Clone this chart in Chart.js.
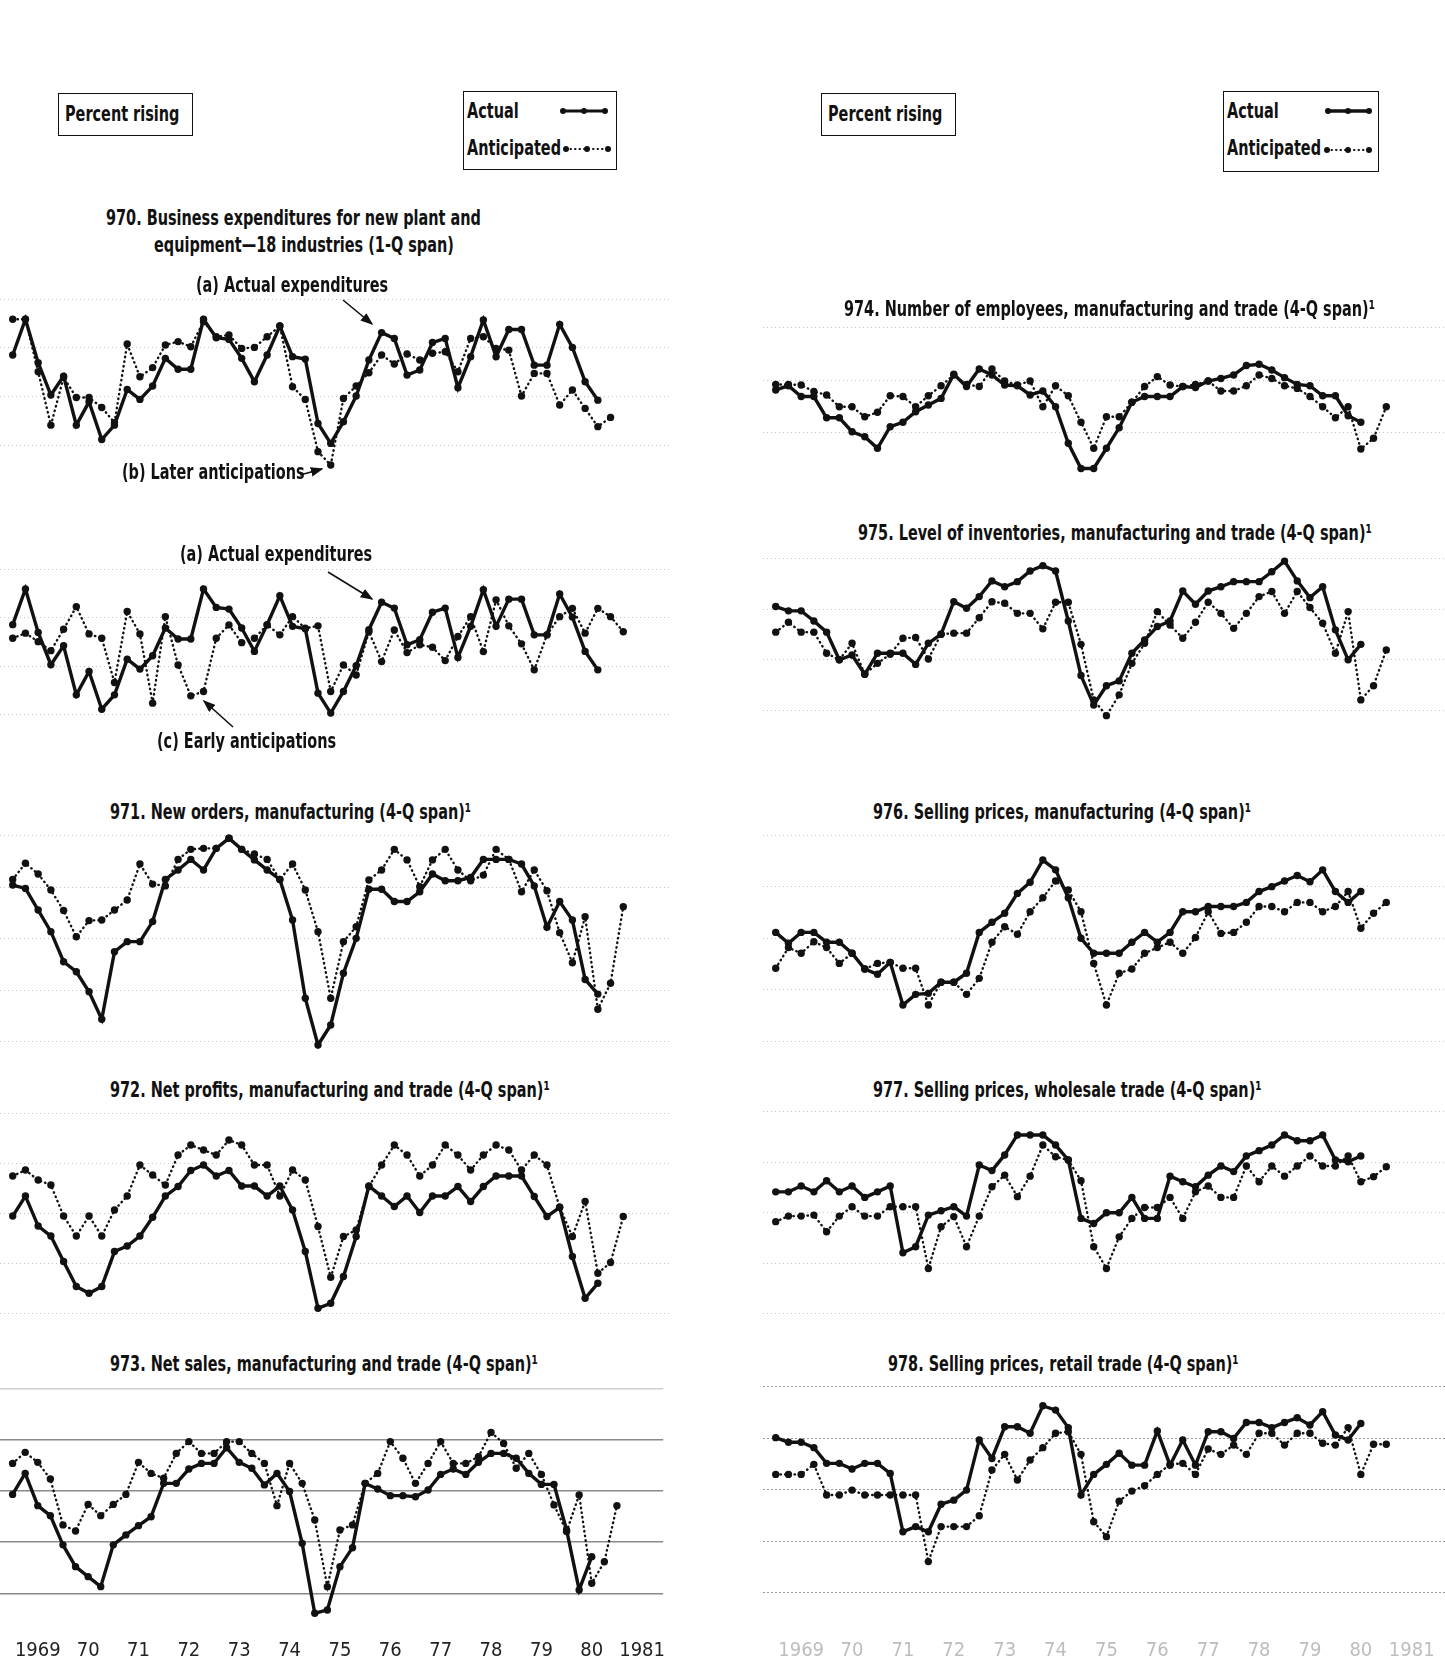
<!DOCTYPE html>
<html>
<head>
<meta charset="utf-8">
<script src="https://cdn.jsdelivr.net/npm/chart.js@4.4.0/dist/chart.umd.min.js"></script>
<style>
  html, body { margin: 0; padding: 0; background: #fff; }
  #page { position: relative; width: 1445px; height: 1665px; overflow: hidden; font-family: "DejaVu Sans Condensed", "DejaVu Sans", sans-serif; color: #111; }
  canvas { position: absolute; }
  .t, .box span { position: absolute; white-space: nowrap; font-size: 22px; font-weight: bold; line-height: 24px; transform: scaleX(0.73); transform-origin: 0 50%; }
  .box { position: absolute; border: 1.5px solid #111; box-sizing: border-box; }
  svg { position: absolute; }
</style>
</head>
<body>
<div id="page">
  <div class="box" style="left:58px;top:93px;width:135px;height:43px;"><span style="left:6px;top:8px;">Percent rising</span></div>
  <div class="box" style="left:463px;top:91px;width:154px;height:79px;">
    <span style="left:3px;top:7px;">Actual</span>
    <span style="left:3px;top:44px;">Anticipated</span>
    <svg width="154" height="79" style="left:-1.5px;top:-1.5px;">
      <line x1="100" y1="20" x2="142" y2="20" stroke="#111" stroke-width="3"/>
      <circle cx="100" cy="20" r="3" fill="#111"/><circle cx="121" cy="20" r="3" fill="#111"/><circle cx="142" cy="20" r="3" fill="#111"/>
      <line x1="103" y1="58" x2="145" y2="58" stroke="#111" stroke-width="2" stroke-dasharray="0.5 4" stroke-linecap="round"/>
      <circle cx="103" cy="58" r="3" fill="#111"/><circle cx="124" cy="58" r="3" fill="#111"/><circle cx="145" cy="58" r="3" fill="#111"/>
    </svg>
  </div>
  <div class="box" style="left:821px;top:93px;width:135px;height:43px;"><span style="left:6px;top:8px;">Percent rising</span></div>
  <div class="box" style="left:1223px;top:91px;width:156px;height:81px;">
    <span style="left:3px;top:7px;">Actual</span>
    <span style="left:3px;top:44px;">Anticipated</span>
    <svg width="156" height="81" style="left:-1.5px;top:-1.5px;">
      <line x1="105" y1="20" x2="146" y2="20" stroke="#111" stroke-width="3.5"/>
      <circle cx="105" cy="20" r="3" fill="#111"/><circle cx="125" cy="20" r="3" fill="#111"/><circle cx="146" cy="20" r="3" fill="#111"/>
      <line x1="104" y1="59" x2="146" y2="59" stroke="#111" stroke-width="2" stroke-dasharray="0.5 4" stroke-linecap="round"/>
      <circle cx="104" cy="59" r="3" fill="#111"/><circle cx="125" cy="59" r="3" fill="#111"/><circle cx="146" cy="59" r="3" fill="#111"/>
    </svg>
  </div>

  <div class="t" style="left:106px;top:206px;">970. Business expenditures for new plant and</div>
  <div class="t" style="left:154px;top:233px;">equipment—18 industries (1-Q span)</div>
  <div class="t" style="left:196px;top:273px;">(a) Actual expenditures</div>
  <div class="t" style="left:122px;top:460px;">(b) Later anticipations</div>
  <div class="t" style="left:180px;top:542px;">(a) Actual expenditures</div>
  <div class="t" style="left:157px;top:729px;">(c) Early anticipations</div>
  <div class="t" style="left:110px;top:800px;">971. New orders, manufacturing (4-Q span)¹</div>
  <div class="t" style="left:110px;top:1078px;">972. Net profits, manufacturing and trade (4-Q span)¹</div>
  <div class="t" style="left:110px;top:1352px;">973. Net sales, manufacturing and trade (4-Q span)¹</div>
  <div class="t" style="left:844px;top:297px;">974. Number of employees, manufacturing and trade (4-Q span)¹</div>
  <div class="t" style="left:858px;top:521px;">975. Level of inventories, manufacturing and trade (4-Q span)¹</div>
  <div class="t" style="left:873px;top:800px;">976. Selling prices, manufacturing (4-Q span)¹</div>
  <div class="t" style="left:873px;top:1078px;">977. Selling prices, wholesale trade (4-Q span)¹</div>
  <div class="t" style="left:888px;top:1352px;">978. Selling prices, retail trade (4-Q span)¹</div>

  <svg width="1445" height="1665" style="left:0;top:0;pointer-events:none;z-index:5;">
    <defs>
      <marker id="ah" markerWidth="8" markerHeight="6" refX="7" refY="3" orient="auto">
        <path d="M0,0 L8,3 L0,6 z" fill="#111"/>
      </marker>
    </defs>
    <line x1="343" y1="300" x2="372" y2="324" stroke="#111" stroke-width="1.6" marker-end="url(#ah)"/>
    <line x1="300" y1="475" x2="322" y2="469" stroke="#111" stroke-width="1.6" marker-end="url(#ah)"/>
    <line x1="328" y1="572" x2="372" y2="599" stroke="#111" stroke-width="1.6" marker-end="url(#ah)"/>
    <line x1="233" y1="727" x2="204" y2="701" stroke="#111" stroke-width="1.6" marker-end="url(#ah)"/>
  </svg>
</div>

<script>
// quarterly periods, 1969 Q1 onward
const years = [1969, 1970, 1971, 1972, 1973, 1974, 1975, 1976, 1977, 1978, 1979, 1980, 1981]
const quarterOffsets = [0, 0.25, 0.5, 0.75]
const yearTickLabels = ['1969', '70', '71', '72', '73', '74', '75', '76', '77', '78', '79', '80', '1981']

// 970 - plant and equipment (1-Q span)
const actual970 = [77.1, 91.8, 73.9, 60.6, 68.4, 48.2, 57.8, 42.3, 48.2, 62.9, 58.8, 64.3, 75.7, 71.2, 71.2, 91.8, 84.2, 83.5, 75.7, 66.1, 77.1, 89.0, 76.4, 75.4, 48.9, 40.7, 49.6, 60.2, 75.0, 86.3, 83.9, 68.8, 70.9, 82.2, 83.9, 63.6, 76.4, 91.5, 76.4, 87.6, 87.6, 72.9, 72.9, 89.7, 80.2, 66.1, 58.5]
const laterAnt970 = [91.8, 91.8, 70.2, 48.2, 67.9, 59.6, 59.6, 55.5, 49.2, 81.6, 68.1, 71.9, 81.2, 82.6, 80.5, 90.8, 84.6, 85.3, 79.8, 80.2, 84.6, 89.0, 64.0, 58.8, 37.3, 31.8, 59.2, 64.3, 69.8, 77.1, 73.4, 77.5, 75.0, 77.8, 78.4, 70.2, 83.9, 84.6, 79.8, 79.1, 60.2, 69.5, 69.5, 56.5, 62.7, 55.1, 47.6, 51.4]
const earlyAnt970 = [71.5, 73.6, 70.1, 66.4, 75.2, 84.5, 73.3, 71.5, 53.3, 82.5, 73.3, 44.8, 80.4, 60.5, 47.8, 49.6, 71.5, 77.0, 69.7, 71.5, 77.0, 72.9, 80.4, 75.6, 76.6, 49.6, 60.5, 56.4, 74.2, 61.9, 74.9, 65.6, 68.8, 67.8, 62.3, 72.2, 80.4, 66.0, 87.3, 76.6, 69.2, 58.5, 72.9, 80.4, 83.8, 73.6, 83.8, 80.4, 74.2]

// 971 - new orders
const actual971 = [80.9, 79.6, 71.2, 62.8, 51.1, 47.2, 39.4, 28.7, 55.0, 58.9, 58.9, 66.7, 83.1, 86.8, 90.9, 86.8, 95.2, 99.1, 94.8, 90.7, 86.8, 83.1, 67.3, 36.9, 18.7, 26.5, 46.6, 60.2, 79.3, 79.3, 74.5, 74.5, 78.3, 85.2, 82.6, 82.6, 83.9, 90.9, 90.9, 90.9, 89.1, 80.6, 64.5, 74.5, 67.3, 44.2, 38.5]
const ant971 = [83.1, 89.4, 85.2, 79.0, 71.0, 60.8, 67.1, 67.3, 71.2, 75.1, 89.1, 81.3, 80.6, 90.9, 94.8, 95.2, 95.2, 99.1, 94.8, 93.0, 90.9, 83.1, 89.1, 79.0, 62.8, 36.9, 58.9, 64.7, 82.9, 86.8, 94.8, 90.7, 80.3, 90.7, 94.8, 86.8, 82.6, 84.8, 94.8, 90.9, 78.3, 86.8, 78.7, 62.4, 50.7, 68.6, 32.6, 42.7, 72.5]

// 972 - net profits
const actual972 = [58.9, 66.9, 54.9, 50.9, 40.7, 30.7, 28.0, 30.7, 44.7, 46.9, 50.9, 58.4, 66.9, 70.7, 77.1, 79.3, 74.9, 77.1, 70.9, 70.9, 66.9, 70.9, 61.3, 44.7, 22.0, 24.0, 34.7, 50.7, 70.9, 66.9, 62.7, 66.9, 60.3, 66.9, 66.9, 70.7, 64.7, 70.7, 74.9, 74.9, 74.9, 66.7, 58.7, 62.4, 42.7, 26.0, 32.0]
const ant972 = [74.9, 77.3, 73.3, 71.3, 58.9, 50.9, 58.9, 50.9, 61.3, 66.9, 79.3, 75.3, 71.3, 83.3, 87.3, 85.3, 83.3, 89.3, 87.3, 79.3, 79.3, 66.9, 77.3, 73.3, 54.7, 34.4, 50.7, 53.3, 70.7, 79.3, 87.3, 83.3, 74.9, 79.3, 87.3, 83.3, 77.3, 83.3, 87.3, 85.3, 77.3, 83.3, 79.3, 62.4, 50.7, 64.7, 36.0, 40.3, 58.7]

// 973 - net sales
const actual973 = [58.6, 66.8, 54.2, 50.3, 38.9, 30.4, 26.5, 22.6, 38.9, 42.8, 46.4, 49.9, 62.9, 62.9, 68.5, 70.7, 70.7, 76.8, 71.1, 68.8, 62.3, 66.8, 59.7, 39.5, 12.2, 13.5, 30.4, 37.8, 62.9, 60.7, 58.1, 58.1, 57.7, 60.3, 66.4, 68.5, 66.4, 71.1, 74.6, 74.6, 72.7, 66.8, 62.5, 62.5, 44.7, 21.3, 34.3]
const ant973 = [70.7, 75.0, 71.1, 64.6, 46.7, 44.3, 54.7, 50.3, 54.7, 58.6, 71.1, 66.8, 64.9, 74.6, 79.2, 74.6, 74.6, 79.2, 79.2, 74.6, 70.7, 54.2, 70.7, 62.9, 48.6, 22.6, 44.7, 46.7, 62.9, 66.8, 79.2, 72.7, 62.9, 70.7, 79.2, 70.7, 70.7, 73.3, 82.8, 78.5, 68.8, 74.6, 66.4, 54.5, 44.1, 58.4, 23.9, 32.3, 54.2]

// 974 - employees
const actual974 = [76.2, 77.8, 73.7, 73.7, 65.6, 65.6, 60.3, 58.4, 54.0, 62.2, 63.9, 67.9, 70.5, 73.0, 82.2, 77.5, 84.2, 81.9, 78.1, 77.8, 74.3, 75.8, 69.8, 55.9, 46.3, 46.3, 54.0, 61.8, 71.5, 73.7, 73.7, 73.7, 77.5, 77.1, 79.6, 80.6, 81.9, 85.5, 86.0, 83.8, 80.9, 78.3, 77.8, 74.0, 74.0, 66.4, 63.9]
const ant974 = [78.3, 78.3, 78.1, 75.6, 74.3, 69.8, 69.8, 66.0, 67.7, 74.0, 73.7, 69.8, 74.0, 77.8, 81.9, 78.3, 77.5, 84.2, 79.6, 78.1, 79.6, 69.8, 77.8, 74.0, 63.9, 54.0, 66.0, 66.0, 71.5, 77.5, 81.3, 78.1, 77.5, 78.3, 79.6, 75.8, 75.8, 77.8, 81.9, 80.6, 77.8, 76.8, 73.7, 69.8, 65.6, 69.8, 53.7, 57.8, 69.8]

// 975 - inventories
const actual975 = [81.0, 79.3, 79.3, 75.3, 70.9, 60.0, 61.9, 54.3, 62.6, 62.6, 62.6, 58.2, 66.5, 70.1, 82.9, 80.3, 84.9, 91.1, 88.8, 90.8, 95.0, 97.1, 95.0, 75.3, 53.8, 42.2, 49.8, 51.7, 62.6, 67.8, 73.1, 75.3, 87.1, 81.9, 87.1, 88.8, 90.8, 90.8, 90.8, 94.7, 98.9, 91.1, 84.5, 88.8, 71.8, 60.0, 66.1]
const ant975 = [70.9, 74.8, 70.9, 70.9, 62.6, 60.0, 66.5, 54.3, 58.6, 62.2, 68.5, 68.8, 60.3, 70.1, 70.5, 70.5, 76.6, 82.9, 82.3, 78.3, 78.3, 72.2, 82.7, 82.7, 66.1, 44.2, 38.0, 46.2, 58.6, 66.5, 79.0, 73.7, 68.5, 74.8, 82.7, 78.3, 72.4, 78.3, 84.9, 86.9, 78.3, 86.9, 80.6, 74.4, 62.6, 79.0, 44.2, 49.8, 63.9]

// 976 - selling prices, manufacturing
const actual976 = [62.3, 58.1, 62.3, 62.3, 58.5, 58.5, 54.2, 48.1, 46.1, 50.7, 34.2, 38.3, 38.7, 43.0, 43.0, 46.5, 62.3, 66.2, 69.7, 77.4, 81.7, 90.3, 86.5, 75.7, 60.0, 54.2, 54.2, 54.2, 58.5, 62.3, 58.5, 62.3, 70.3, 70.3, 72.3, 72.3, 72.3, 73.9, 78.1, 80.0, 82.2, 84.3, 81.9, 86.5, 78.1, 73.9, 78.1]
const ant976 = [48.4, 56.4, 54.2, 58.7, 56.4, 50.3, 54.2, 48.1, 50.3, 50.7, 48.4, 48.4, 34.2, 43.0, 43.0, 38.3, 44.5, 58.5, 64.5, 61.6, 70.3, 75.7, 82.2, 78.7, 70.3, 50.3, 34.2, 46.5, 48.1, 54.2, 56.4, 58.5, 54.2, 60.3, 70.3, 61.9, 62.3, 66.2, 72.3, 72.3, 70.3, 73.9, 73.9, 70.3, 72.3, 78.1, 63.9, 69.7, 73.9]

// 977 - selling prices, wholesale
const actual977 = [68.3, 68.3, 70.6, 68.3, 72.7, 68.3, 70.6, 66.1, 68.3, 70.6, 44.2, 46.6, 59.1, 60.8, 62.4, 58.7, 78.9, 76.7, 82.9, 90.8, 90.8, 90.8, 86.8, 80.9, 57.8, 55.8, 60.0, 60.0, 66.1, 57.8, 57.8, 74.5, 72.3, 70.3, 74.9, 78.5, 76.3, 82.5, 84.6, 86.8, 90.8, 88.5, 88.5, 90.8, 80.9, 80.2, 82.5]
const ant977 = [56.5, 58.7, 58.7, 59.1, 52.5, 58.7, 62.4, 58.7, 58.7, 62.4, 62.4, 62.4, 38.0, 54.5, 58.5, 46.6, 58.7, 70.3, 74.9, 66.4, 74.5, 86.8, 82.2, 80.9, 72.7, 46.6, 38.0, 50.5, 57.8, 62.1, 62.1, 66.1, 57.8, 68.3, 70.6, 66.1, 66.1, 78.5, 72.3, 78.5, 74.5, 78.5, 82.5, 78.5, 78.5, 82.5, 72.3, 74.3, 78.2]

// 978 - selling prices, retail
const actual978 = [80.2, 78.4, 78.4, 76.3, 70.2, 70.2, 68.0, 70.2, 70.2, 66.3, 43.6, 45.6, 43.6, 54.3, 55.9, 59.8, 79.3, 72.1, 84.4, 84.4, 81.9, 92.6, 90.9, 84.1, 57.9, 65.9, 69.8, 74.1, 69.5, 69.5, 82.8, 69.5, 79.3, 69.5, 82.5, 82.5, 79.9, 86.1, 86.1, 84.1, 86.1, 87.9, 85.1, 90.3, 81.2, 79.3, 85.7]
const ant978 = [65.9, 65.9, 65.9, 69.8, 57.9, 57.9, 59.8, 57.9, 57.9, 57.9, 57.9, 57.9, 32.0, 45.6, 45.6, 45.6, 49.8, 67.6, 73.7, 63.7, 71.5, 76.3, 81.9, 82.5, 73.7, 47.5, 41.7, 55.5, 59.4, 61.5, 65.9, 69.8, 70.2, 65.9, 75.8, 73.7, 77.3, 73.7, 81.9, 81.9, 77.3, 81.9, 81.9, 78.0, 77.3, 84.1, 65.9, 77.6, 77.6]

const periods = years.flatMap((y) => quarterOffsets.map((q) => y + q))
const toPoints = (vals) => vals.map((v, i) => ({ x: periods[i], y: v }))

// page layout (pixels)
const X_START = 1968.75
const PX_PER_YEAR = 50.88
const columns = {
  L: { left: 0, width: 670, labelColor: '#222' },
  R: { left: 763, width: 682, labelColor: '#bdbdbd' },
}
const AXIS_H = 30
const YMAX = 104

const panels = [
  { col: 'L', y100: 299.3, ppu: 2.43, ymin: 28, grid: [100, 80, 60, 40], actual: actual970, ant: laterAnt970 },
  { col: 'L', y100: 569, ppu: 2.43, ymin: 34, grid: [100, 80, 60, 40], actual: actual970, ant: earlyAnt970 },
  { col: 'L', y100: 836, ppu: 2.571, ymin: 16, grid: [100, 80, 60, 40, 20], actual: actual971, ant: ant971 },
  { col: 'L', y100: 1113.3, ppu: 2.5, ymin: 18, grid: [100, 80, 60, 40, 20], actual: actual972, ant: ant972 },
  { col: 'L', y100: 1388.3, ppu: 2.5625, ymin: 4, grid: [100, 80, 60, 40, 20], actual: actual973, ant: ant973, solidGrid: true, xAxis: true },
  { col: 'R', y100: 327.5, ppu: 2.625, ymin: 40, grid: [100, 80, 60, 40], actual: actual974, ant: ant974 },
  { col: 'R', y100: 558.3, ppu: 2.538, ymin: 34, grid: [100, 80, 60, 40], actual: actual975, ant: ant975 },
  { col: 'R', y100: 835, ppu: 2.583, ymin: 16, grid: [100, 80, 60, 40, 20], actual: actual976, ant: ant976 },
  { col: 'R', y100: 1111.7, ppu: 2.528, ymin: 16, grid: [100, 80, 60, 40, 20], actual: actual977, ant: ant977 },
  { col: 'R', y100: 1386.7, ppu: 2.572, ymin: 3.73, grid: [100, 80, 60, 40, 20], actual: actual978, ant: ant978, darkGrid: true, xAxis: true },
]

const page = document.getElementById('page')

panels.forEach((p) => {
  const col = columns[p.col]
  const top = Math.round(p.y100 - (YMAX - 100) * p.ppu)
  const areaH = Math.round((YMAX - p.ymin) * p.ppu)
  const ymax = 100 + (p.y100 - top) / p.ppu
  const ymin = ymax - areaH / p.ppu

  const canvas = document.createElement('canvas')
  canvas.width = col.width
  canvas.height = areaH + (p.xAxis ? AXIS_H : 0)
  canvas.style.left = col.left + 'px'
  canvas.style.top = top + 'px'
  page.insertBefore(canvas, page.firstChild)

  let gridColor = '#c4c4c4'
  let gridDash = [1, 3]
  let gridWidth = 1
  if (p.solidGrid) {
    gridColor = (ctx) => (ctx.tick && ctx.tick.value === 100 ? '#cfcfcf' : '#8a8a8a')
    gridDash = []
    gridWidth = 1.4
  }
  if (p.darkGrid) {
    gridColor = '#9a9a9a'
    gridDash = [2, 2]
  }

  new Chart(canvas, {
    type: 'line',
    data: {
      datasets: [
        {
          label: 'Anticipated',
          data: toPoints(p.ant),
          borderColor: '#111',
          borderWidth: 2.4,
          borderDash: [0.5, 4.2],
          borderCapStyle: 'round',
          pointRadius: 3.7,
          pointBackgroundColor: '#111',
          pointBorderWidth: 0,
          tension: 0,
          clip: false,
        },
        {
          label: 'Actual',
          data: toPoints(p.actual),
          borderColor: '#111',
          borderWidth: 3.4,
          pointRadius: 3.7,
          pointBackgroundColor: '#111',
          pointBorderWidth: 0,
          tension: 0,
          clip: false,
        },
      ],
    },
    options: {
      responsive: false,
      animation: false,
      devicePixelRatio: 1,
      events: [],
      layout: { padding: 0, autoPadding: false },
      plugins: { legend: { display: false }, tooltip: { enabled: false } },
      scales: {
        x: {
          type: 'linear',
          min: X_START,
          max: X_START + col.width / PX_PER_YEAR,
          display: !!p.xAxis,
          grid: { display: false, drawTicks: false },
          border: { display: false },
          afterBuildTicks: (axis) => {
            axis.ticks = years.map((y) => ({ value: y + 0.5 }))
          },
          afterFit: (axis) => {
            if (p.xAxis) axis.height = AXIS_H
          },
          ticks: {
            autoSkip: false,
            maxRotation: 0,
            padding: 5,
            color: col.labelColor,
            font: { family: 'DejaVu Sans Condensed', size: 20 },
            callback: (value, index) => yearTickLabels[index],
          },
        },
        y: {
          type: 'linear',
          min: ymin,
          max: ymax,
          afterBuildTicks: (axis) => {
            axis.ticks = p.grid.map((v) => ({ value: v }))
          },
          afterFit: (axis) => {
            axis.width = 0
          },
          ticks: { display: false },
          border: { display: false, dash: gridDash },
          grid: { color: gridColor, lineWidth: gridWidth, drawTicks: false },
        },
      },
    },
  })
})
</script>
</body>
</html>
